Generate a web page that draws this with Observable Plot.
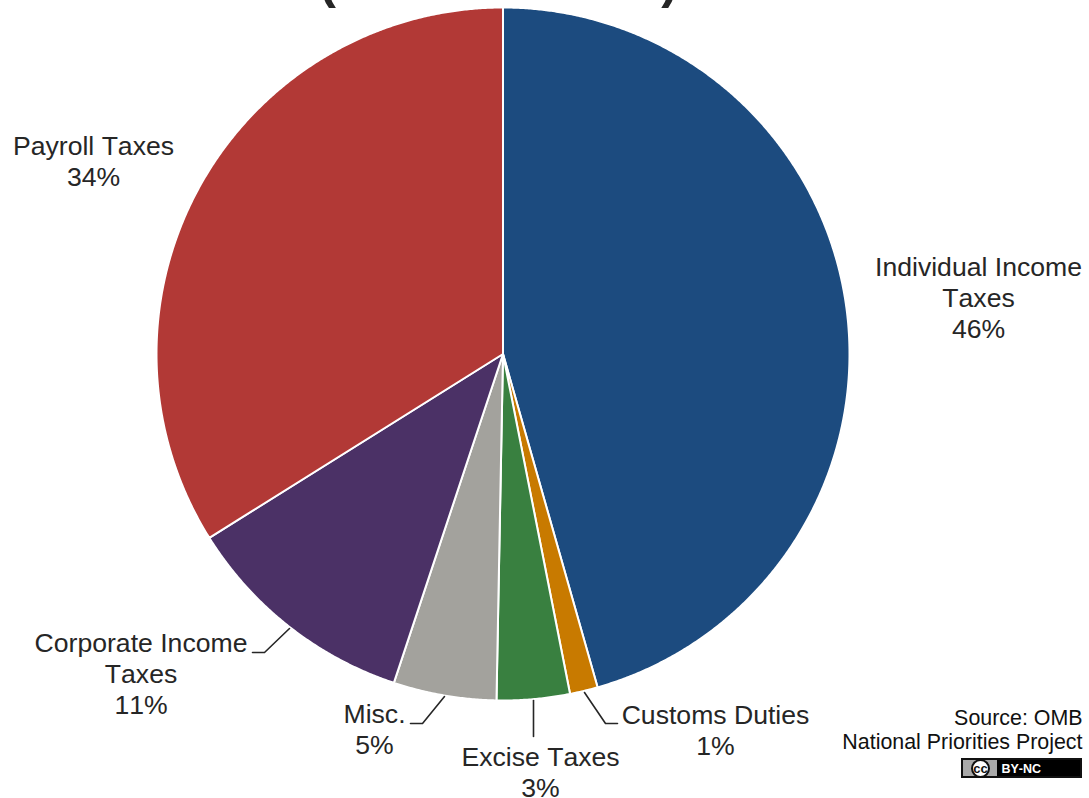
<!DOCTYPE html>
<html>
<head>
<meta charset="utf-8">
<title>Federal revenue by source</title>
<script src="https://cdn.jsdelivr.net/npm/d3@7"></script>
<script src="https://cdn.jsdelivr.net/npm/@observablehq/plot@0.6"></script>
<style>
  html, body { margin: 0; padding: 0; background: #fff; }
  svg { display: block; }
</style>
</head>
<body>
<div id="chart"></div>
<script>
// Revenue sources, clockwise from twelve o'clock, in percent of the total.
const sources = ["Individual Income Taxes", "Customs Duties", "Excise Taxes", "Misc.", "Corporate Income Taxes", "Payroll Taxes"];
const shares = [45.6, 1.3, 3.4, 4.8, 11.0, 33.9];
const labelLines = ["Individual Income\nTaxes", "Customs Duties", "Excise Taxes", "Misc.", "Corporate Income\nTaxes", "Payroll Taxes"];
const sliceColors = ["#1c4b7f", "#c87a00", "#398040", "#a3a29d", "#4b3166", "#b23936"];
const sourceNotes = ["Source: OMB", "National Priorities Project"];

// Page layout, in SVG pixels.
const W = 1089, H = 798;
const center = [502.5, 353.5], radius = 346.5;
const labelSpots = [[978, 297], [715, 729], [540, 771.5], [374, 728.5], [140.5, 673], [93, 160.5]];
const leaders = [
  [],
  [[584, 692], [605, 723], [617, 723]],
  [[533, 700], [533, 736]],
  [[444, 696], [422, 723], [410, 723]],
  [[289, 628], [264, 652], [252, 652]],
  []
];

// Each wedge becomes a closed outline: centre, arc samples, centre.
let running = 0;
const wedges = shares.flatMap((share, i) => {
  const from = running / 100 * 2 * Math.PI;
  running += share;
  const to = running / 100 * 2 * Math.PI;
  const steps = Math.max(8, Math.ceil((to - from) / 0.005));
  const rim = d3.range(steps + 1).map((k) => {
    const a = from + (to - from) * k / steps;
    return {source: sources[i], x: center[0] + radius * Math.sin(a), y: center[1] - radius * Math.cos(a)};
  });
  const hub = {source: sources[i], x: center[0], y: center[1]};
  return [hub, ...rim, hub];
});

const labels = sources.map((source, i) => ({
  text: `${labelLines[i]}\n${Math.round(shares[i])}%`,
  x: labelSpots[i][0],
  y: labelSpots[i][1]
}));

const leaderPoints = leaders.flatMap((pts, i) => pts.map(([x, y]) => ({source: sources[i], x, y})));
const ink = "#262626";
const sans = "'Liberation Sans', Arial, sans-serif";

const chart = Plot.plot({
  width: W,
  height: H,
  margin: 0,
  style: {background: "#fff", fontFamily: sans, fontKerning: "none"},
  x: {domain: [0, W], range: [0, W], axis: null},
  y: {domain: [0, H], range: [0, H], axis: null},
  color: {domain: sources, range: sliceColors},
  marks: [
    Plot.line(wedges, {x: "x", y: "y", z: "source", fill: "source", stroke: "#fff", strokeWidth: 2, curve: "linear"}),
    Plot.line(leaderPoints, {x: "x", y: "y", z: "source", stroke: ink, strokeWidth: 1.6, curve: "linear"}),
    Plot.text(labels, {x: "x", y: "y", text: "text", fontSize: 26.6, lineHeight: 1.165, fill: ink, lineAnchor: "middle", textAnchor: "middle"}),
    // Heading runs off the top edge; only the ends of its parentheses remain.
    Plot.text(["(", ")"], {x: [327, 669], y: [-19, -19], text: (d) => d, fontSize: 50, fontWeight: "bold", fill: ink, textAnchor: "middle", lineAnchor: "middle"}),
    Plot.text(sourceNotes, {x: [1082, 1082], y: [717.5, 741.5], text: (d) => d, fontSize: 21.4, fill: "#111", textAnchor: "end", lineAnchor: "middle"}),
    // Licence badge.
    Plot.rect([0], {x1: [961], x2: [1082], y1: [758], y2: [778], fill: "#111"}),
    Plot.rect([0], {x1: [963], x2: [1080], y1: [760], y2: [776], fill: "#a9a9a9"}),
    Plot.rect([0], {x1: [997], x2: [1080], y1: [760], y2: [776], fill: "#000"}),
    Plot.dot([0], {x: [980], y: [768], r: 8.5, fill: "#fff", stroke: "#111", strokeWidth: 2}),
    Plot.text(["cc"], {x: [980], y: [768], text: (d) => d, fontSize: 13, fontWeight: "bold", fill: "#111"}),
    Plot.text(["BY-NC"], {x: [1001], y: [768], text: (d) => d, fontSize: 12.5, fontWeight: "bold", fill: "#fff", textAnchor: "start"})
  ]
});
document.getElementById("chart").append(chart);
</script>
</body>
</html>
